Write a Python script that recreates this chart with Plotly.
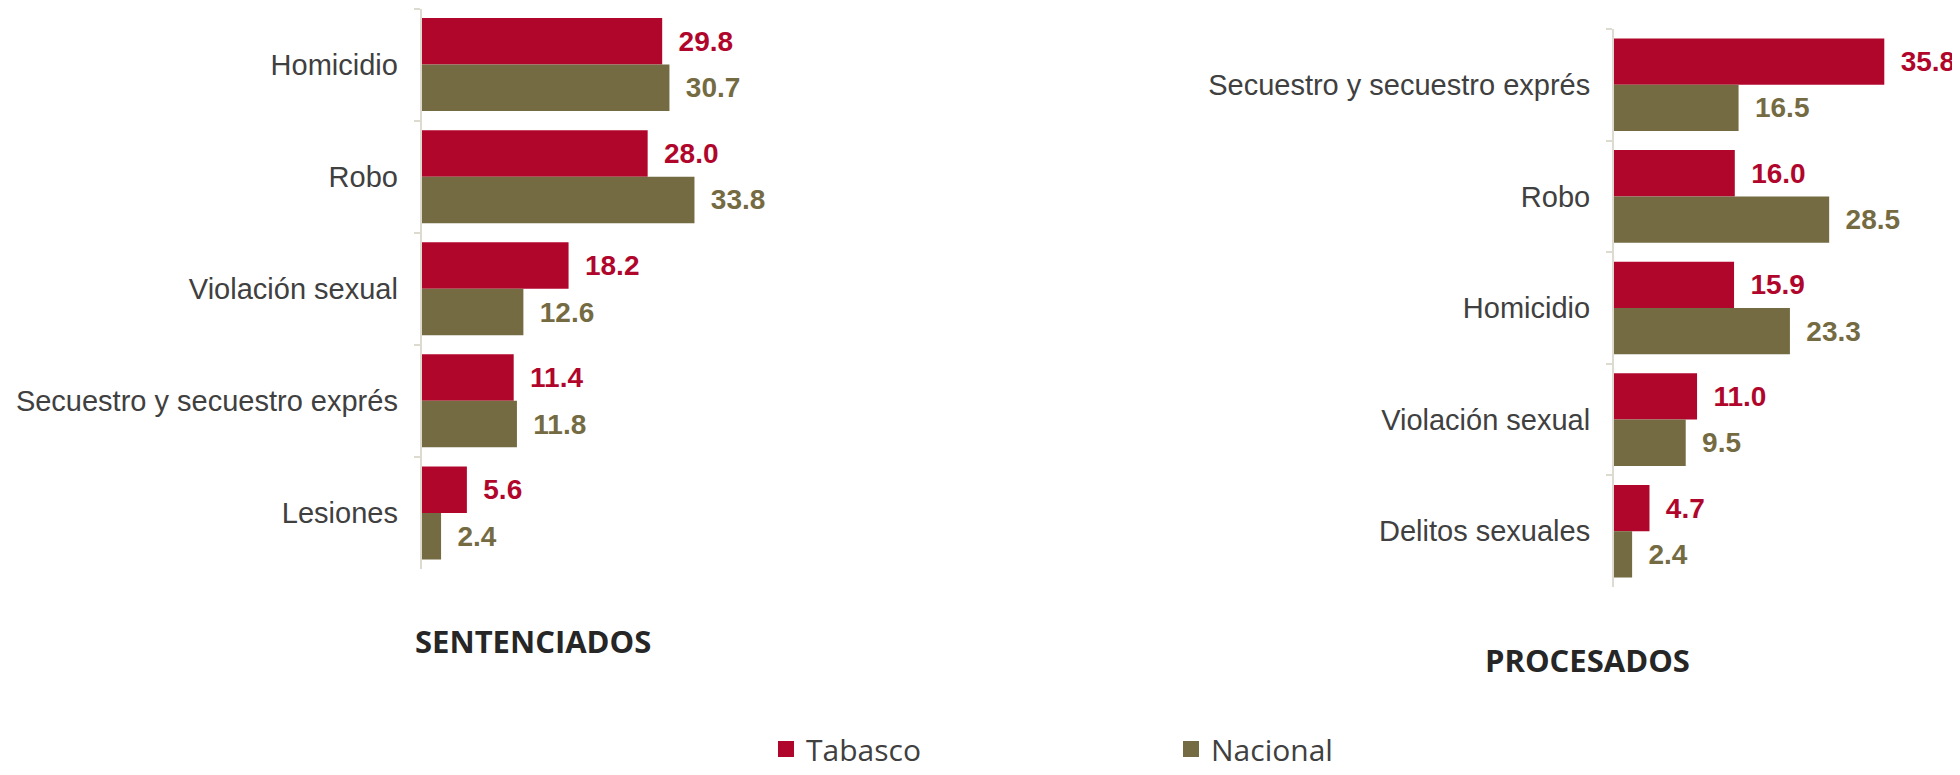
import plotly.graph_objects as go

# Data
sent_categories = ["Homicidio", "Robo", "Violación sexual", "Secuestro y secuestro exprés", "Lesiones"]
sent_tabasco = [29.8, 28.0, 18.2, 11.4, 5.6]
sent_nacional = [30.7, 33.8, 12.6, 11.8, 2.4]

proc_categories = ["Secuestro y secuestro exprés", "Robo", "Homicidio", "Violación sexual", "Delitos sexuales"]
proc_tabasco = [35.8, 16.0, 15.9, 11.0, 4.7]
proc_nacional = [16.5, 28.5, 23.3, 9.5, 2.4]

series_names = ["Tabasco", "Nacional"]
panel_titles = ["SENTENCIADOS", "PROCESADOS"]

RED = "#B1062C"
OLIVE = "#756B43"
LABEL_FONT = "Liberation Sans, Arial, sans-serif"
TITLE_FONT = "Open Sans, sans-serif"

def fmt(vals):
    return [" \u2009" + f"{v:.1f}" for v in vals]

fig = go.Figure()

panels = [
    (sent_categories, sent_tabasco, sent_nacional, "x", "y"),
    (proc_categories, proc_tabasco, proc_nacional, "x2", "y2"),
]
for cats, tab, nac, xa, ya in panels:
    for name, vals, col in [(series_names[0], tab, RED), (series_names[1], nac, OLIVE)]:
        fig.add_trace(go.Bar(
            y=cats, x=vals, orientation="h", name=name,
            marker=dict(color=col, line=dict(width=0)),
            text=fmt(vals), textposition="outside",
            textfont=dict(family=LABEL_FONT, size=28, color=col, weight="bold"),
            cliponaxis=False, showlegend=False, xaxis=xa, yaxis=ya,
            hoverinfo="skip",
        ))

# legend entries
for name, col in [(series_names[0], RED), (series_names[1], OLIVE)]:
    fig.add_trace(go.Scatter(
        x=[None], y=[None], mode="markers", name=name,
        marker=dict(symbol="square", size=16, color=col),
        showlegend=True, xaxis="x", yaxis="y",
    ))

yaxis_common = dict(
    type="category", autorange="reversed", showline=True, linecolor="#DDDBCF", linewidth=2,
    ticks="outside", tickson="boundaries", ticklen=6, tickcolor="#DDDBCF", tickwidth=2,
    tickfont=dict(family=LABEL_FONT, size=29, color="#404040"),
    ticklabelstandoff=16, showgrid=False, zeroline=False, automargin=False,
)
xaxis_common = dict(range=[0, 40], visible=False, showgrid=False, zeroline=False, automargin=False)

# page has an 8px body margin; figure coordinates = page coordinates - 8
W, H = 1952, 767
fig.update_layout(
    width=W, height=H,
    margin=dict(l=0, r=0, t=0, b=0, autoexpand=False),
    paper_bgcolor="white", plot_bgcolor="white",
    barmode="group", bargap=0.17, bargroupgap=0,
    xaxis=dict(domain=[413.7 / W, (413.7 + 322.8) / W], anchor="y", **xaxis_common),
    yaxis=dict(domain=[(H - 561) / H, (H - 0.5) / H], anchor="x", **yaxis_common),
    xaxis2=dict(domain=[1606 / W, (1606 + 302) / W], anchor="y2", **xaxis_common),
    yaxis2=dict(domain=[(H - 579) / H, (H - 21) / H], anchor="x2", **yaxis_common),
    legend=dict(
        orientation="h", x=758 / W, xanchor="left", y=0, yanchor="bottom",
        font=dict(family=TITLE_FONT, size=30, color="#404040"),
        entrywidth=360, entrywidthmode="pixels", bgcolor="rgba(0,0,0,0)",
        borderwidth=0, tracegroupgap=0,
    ),
    annotations=[
        dict(text=f"<b>{panel_titles[0]}</b>", x=525 / W, y=(H - 633) / H, xref="paper", yref="paper",
             showarrow=False, xanchor="center", yanchor="middle",
             font=dict(family=TITLE_FONT, size=31, color="#262626")),
        dict(text=f"<b>{panel_titles[1]}</b>", x=1579 / W, y=(H - 652) / H, xref="paper", yref="paper",
             showarrow=False, xanchor="center", yanchor="middle",
             font=dict(family=TITLE_FONT, size=31, color="#262626")),
    ],
)

fig.write_html("out.html")
